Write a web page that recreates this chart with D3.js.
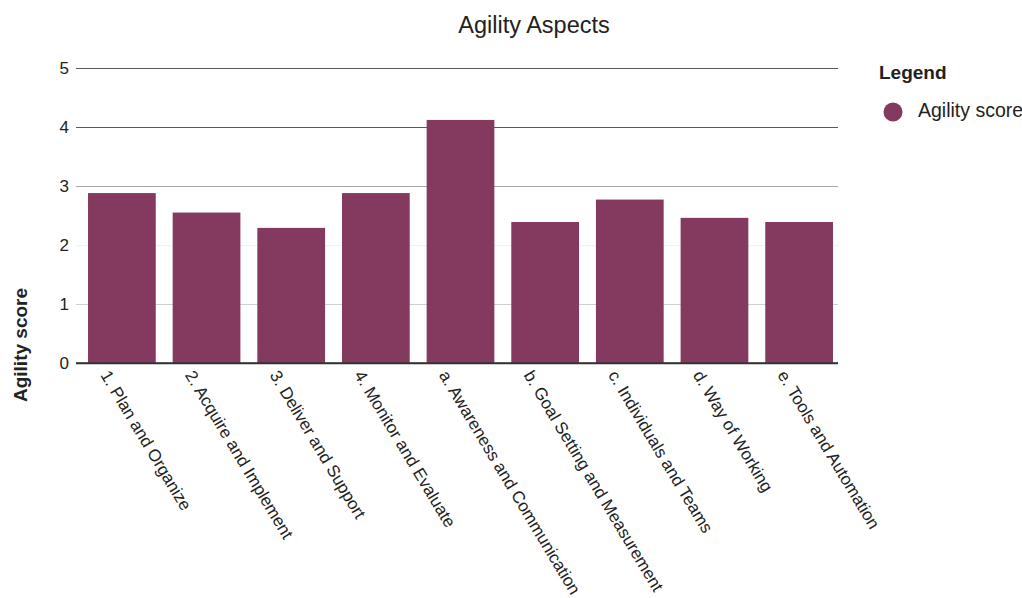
<!DOCTYPE html>
<html>
<head>
<meta charset="utf-8">
<script src="https://cdn.jsdelivr.net/npm/d3@7"></script>
<style>
  html, body { margin: 0; padding: 0; background: #fff; }
  svg { display: block; font-family: Arial, "Liberation Sans", Helvetica, sans-serif; }
</style>
</head>
<body>
<svg id="chart" width="1022" height="598"></svg>
<script>
const categories = [
  "1. Plan and Organize",
  "2. Acquire and Implement",
  "3. Deliver and Support",
  "4. Monitor and Evaluate",
  "a. Awareness and Communication",
  "b. Goal Setting and Measurement",
  "c. Individuals and Teams",
  "d. Way of Working",
  "e. Tools and Automation"
];
const agilityScores = [2.88, 2.55, 2.29, 2.88, 4.12, 2.39, 2.77, 2.46, 2.39];
const yTicks = [0, 1, 2, 3, 4, 5];
const seriesName = "Agility score";
const chartTitle = "Agility Aspects";

const svg = d3.select("#chart");
const W = 1022, H = 598;
const plot = { left: 76, right: 838, top: 68, bottom: 363 };
const barColor = "#843a5e";

const x = d3.scaleBand()
  .domain(categories)
  .range([plot.left, 845])
  .paddingInner(0.2)
  .paddingOuter(0.142);

const y = d3.scaleLinear()
  .domain([0, 5])
  .range([plot.bottom, plot.top]);

const gridColors = { 0: "#333333", 1: "#d0d0d0", 2: "#f0f0f0", 3: "#a8a8a8", 4: "#5a5a5a", 5: "#5a5a5a" };

const yAxis = d3.axisLeft(y)
  .tickValues(yTicks)
  .tickSize(-(plot.right - plot.left))
  .tickPadding(7)
  .tickFormat(d3.format("d"));

const gy = svg.append("g")
  .attr("transform", `translate(${plot.left},0)`)
  .call(yAxis);
gy.select(".domain").remove();
gy.selectAll(".tick line")
  .attr("stroke", d => gridColors[d])
  .attr("stroke-width", d => d === 0 ? 1.5 : 1.2);
gy.selectAll(".tick text")
  .attr("fill", "#222")
  .style("font-size", "17px")
  .attr("font-family", "Arial, 'Liberation Sans', sans-serif");

svg.append("g")
  .selectAll("rect")
  .data(categories)
  .join("rect")
  .attr("x", d => x(d))
  .attr("y", (d, i) => y(agilityScores[i]))
  .attr("width", x.bandwidth())
  .attr("height", (d, i) => y(0) - y(agilityScores[i]))
  .attr("fill", barColor);

svg.append("line")
  .attr("x1", plot.left).attr("x2", plot.right)
  .attr("y1", y(0)).attr("y2", y(0))
  .attr("stroke", "#333").attr("stroke-width", 1.5);

const xAxis = d3.axisBottom(x).tickSize(0).tickPadding(0);
const gx = svg.append("g")
  .attr("transform", `translate(0,${y(0)})`)
  .call(xAxis);
gx.select(".domain").remove();
gx.selectAll(".tick text")
  .attr("transform", "translate(-22,12) rotate(59)")
  .attr("text-anchor", "start")
  .attr("dy", "0")
  .attr("y", 0)
  .attr("x", 0)
  .attr("fill", "#222")
  .style("font-size", "17px")
  .attr("font-family", "Arial, 'Liberation Sans', sans-serif");

svg.append("text")
  .attr("x", 534).attr("y", 33)
  .attr("text-anchor", "middle")
  .attr("fill", "#222")
  .style("font-size", "23.5px")
  .text(chartTitle);

svg.append("text")
  .attr("transform", `translate(27,345) rotate(-90)`)
  .attr("text-anchor", "middle")
  .attr("fill", "#222")
  .style("font-size", "19px")
  .style("font-weight", "bold")
  .text(seriesName);

svg.append("text")
  .attr("x", 879).attr("y", 79)
  .attr("fill", "#222")
  .style("font-size", "19px")
  .style("font-weight", "bold")
  .text("Legend");
svg.append("circle")
  .attr("cx", 893).attr("cy", 112)
  .attr("r", 9.5)
  .attr("fill", barColor);
svg.append("text")
  .attr("x", 918).attr("y", 117)
  .attr("fill", "#222")
  .style("font-size", "19.5px")
  .text(seriesName);
</script>
</body>
</html>
